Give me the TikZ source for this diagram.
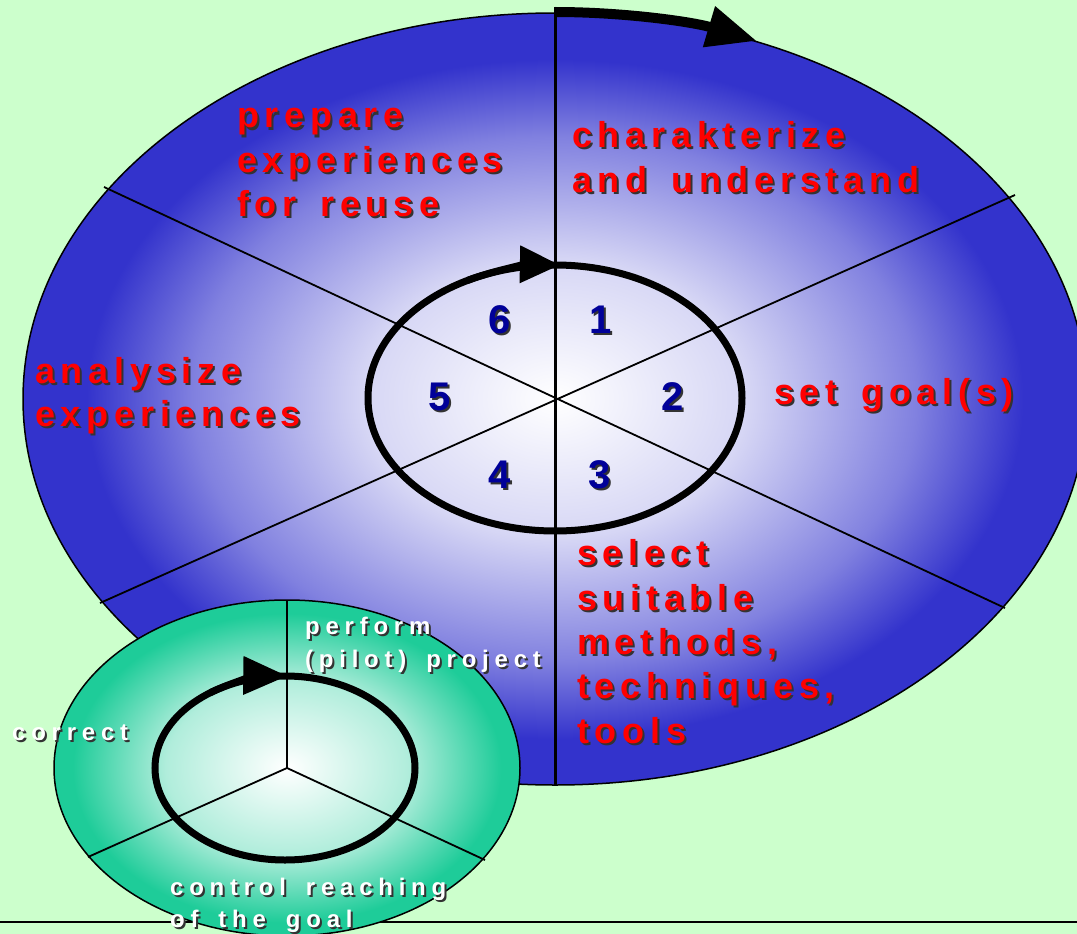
\documentclass[tikz,border=0pt]{standalone}
\usepackage{fontspec}
\setmainfont{Liberation Sans}
\newfontfamily\redfont[LetterSpace=16,WordSpace=1.5]{Liberation Sans}
\newfontfamily\whitefont[LetterSpace=24,WordSpace=1.6]{Liberation Sans}
\usetikzlibrary{arrows.meta}
\definecolor{bg}{RGB}{204,255,204}
\definecolor{myblue}{RGB}{51,51,204}
\definecolor{mygreen}{RGB}{30,204,153}
\definecolor{numblue}{RGB}{0,0,153}
\colorlet{bluelight}{myblue!20!white}
\colorlet{bluemid}{myblue!62!white}
\colorlet{greenlight}{mygreen!35!white}
\pgfdeclareradialshading{bigshade}{\pgfpoint{0bp}{0bp}}{color(0bp)=(white); color(9bp)=(bluelight); color(17bp)=(bluemid); color(22bp)=(myblue); color(50bp)=(myblue)}
\pgfdeclareradialshading{smallshade}{\pgfpoint{0bp}{0bp}}{color(0bp)=(white); color(13bp)=(greenlight); color(23bp)=(mygreen); color(50bp)=(mygreen)}
\newcommand\stext[5]{%
  \node[#4,text=black!80] (#1s) at (#2+2,#3+2) {#5};
  \node[#4] (#1) at (#2,#3) {#5};}
\tikzset{
  redlbl/.style={font=\redfont\bfseries\fontsize{36}{44}\selectfont, text=red, inner sep=0pt, anchor=base west},
  whitelbl/.style={font=\whitefont\bfseries\fontsize{24}{30}\selectfont, text=white, inner sep=0pt, anchor=base west},
  numlbl/.style={font=\bfseries\fontsize{40}{48}\selectfont, text=numblue, inner sep=0pt, anchor=base},
  spoke/.style={draw=black, line width=1.8pt},
  ring/.style={draw=black, line width=7pt},
  outline/.style={draw=black, line width=1.5pt}
}
\begin{document}
\begin{tikzpicture}[x=1pt,y=-1pt]
\fill[bg] (0,0) rectangle (1077,934);
\useasboundingbox (0,0) rectangle (1077,934);
\clip (0,0) rectangle (1077,934);
% base line
\coordinate (hl) at (0,922);
\coordinate (hr) at (1077,922);
\draw[line width=2.5pt] (hl) -- (hr);
% big ellipse
\coordinate (C) at (555,399);
\shadedraw[shading=bigshade, outline] (C) ellipse[x radius=532, y radius=386];
\coordinate (UL) at (104,187);
\coordinate (LR) at (1005,608);
\coordinate (LL) at (100,603);
\coordinate (UR) at (1015,195);
\coordinate (T) at (555,7);
\coordinate (B) at (555,785);
\draw[spoke] (UL) -- (LR);
\draw[spoke] (LL) -- (UR);
\draw[draw=black, line width=3pt] (T) -- (B);
% outer arrow
\coordinate (A0) at (555,12);
\draw[line width=10pt, -{Triangle[length=50pt,width=40pt]}] (A0) arc[start angle=-90, end angle=-67.7, x radius=532, y radius=387];
% inner ring
\coordinate (C2) at (555,398);
\draw[ring] (C2) ellipse[x radius=187, y radius=133];
\draw[line width=7pt, -{Triangle[length=40pt,width=36pt]}] (C2) ++(-118:187 and 133) arc[start angle=-118, end angle=-88.5, x radius=187, y radius=133];
% numbers
\stext{n6}{500}{333}{numlbl}{6}
\stext{n1}{601}{333}{numlbl}{1}
\stext{n5}{440}{410}{numlbl}{5}
\stext{n2}{673}{410}{numlbl}{2}
\stext{n4}{500}{488}{numlbl}{4}
\stext{n3}{600}{488}{numlbl}{3}
% red labels
\stext{p1}{237}{128}{redlbl}{prepare}
\stext{p2}{237}{172}{redlbl}{experiences}
\stext{p3}{237}{216}{redlbl}{for reuse}
\stext{c1}{572}{147}{redlbl}{charakterize}
\stext{c2}{572}{192}{redlbl}{and understand}
\stext{a1}{35}{383}{redlbl}{analysize}
\stext{a2}{35}{426}{redlbl}{experiences}
\stext{g1}{774}{404}{redlbl}{set goal(s)}
\stext{s1}{577}{565}{redlbl}{select}
\stext{s2}{577}{610}{redlbl}{suitable}
\stext{s3}{577}{654}{redlbl}{methods,}
\stext{s4}{577}{698}{redlbl}{techniques,}
\stext{s5}{577}{743}{redlbl}{tools}
% small ellipse
\coordinate (S) at (287,768);
\shadedraw[shading=smallshade, outline] (S) ellipse[x radius=233, y radius=168];
\coordinate (ST) at (287,600);
\coordinate (SL) at (88,857);
\coordinate (SR) at (485,860);
\draw[spoke] (ST) -- (S);
\draw[spoke] (S) -- (SL);
\draw[spoke] (S) -- (SR);
\coordinate (S2) at (285,768);
\draw[ring] (S2) ellipse[x radius=130, y radius=92];
\draw[line width=7pt, -{Triangle[length=44pt,width=37pt]}] (S2) ++(-125:130 and 92) arc[start angle=-125, end angle=-89, x radius=130, y radius=92];
% white labels
\stext{w1}{305}{634}{whitelbl}{perform}
\stext{w2}{305}{667}{whitelbl}{(pilot) project}
\stext{w3}{12}{740}{whitelbl}{correct}
\stext{w4}{170}{895}{whitelbl}{control reaching}
\stext{w5}{170}{927}{whitelbl}{of the goal}
\end{tikzpicture}
\end{document}
